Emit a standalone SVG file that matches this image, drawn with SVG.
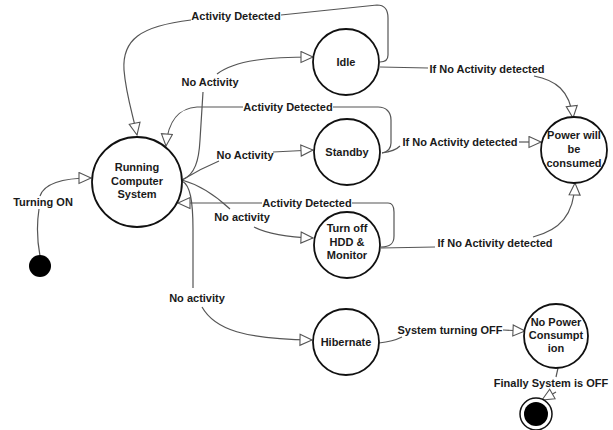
<svg xmlns="http://www.w3.org/2000/svg" width="613" height="430" viewBox="0 0 613 430">
<defs>
<marker id="arr" markerUnits="userSpaceOnUse" markerWidth="16" markerHeight="16" refX="13" refY="6.5" orient="auto">
<path d="M1,1 L13,6.5 L1,12 Z" fill="#fff" stroke="#555" stroke-width="1.1"/>
</marker>
</defs>
<style>
.st{fill:#fff;stroke:#111;stroke-width:1.8}
.t{font-family:"Liberation Sans",Arial,sans-serif;font-size:11px;font-weight:bold;fill:#1a1a1a;text-anchor:middle}
.c{fill:none;stroke:#555;stroke-width:1.2}
.a{marker-end:url(#arr)}
</style>
<rect width="613" height="430" fill="#fff"/>
<g id="connectors">
<!-- Turning ON -->
<path class="c" d="M40,256 C37,240 37,222 39,209"/>
<path class="c a" d="M40,196 C44,184 60,178 91,178"/>
<text class="t" x="43" y="206">Turning ON</text>
<!-- Running -> Idle -->
<path class="c" d="M182,180 C195,175 199,160 200,140 L203,92"/>
<path class="c a" d="M217,74 C235,60 270,57 313,57"/>
<text class="t" x="210" y="86">No Activity</text>
<!-- Running -> Standby -->
<path class="c" d="M182,180 C195,172 207,166 219,161"/>
<path class="c a" d="M273,152 L313,150"/>
<text class="t" x="245" y="159">No Activity</text>
<!-- Running -> Turn off -->
<path class="c" d="M182,180 C200,185 215,195 230,209"/>
<path class="c a" d="M254,227 C268,234 285,237 313,238"/>
<text class="t" x="242" y="221">No activity</text>
<!-- Running -> Hibernate -->
<path class="c" d="M182,181 C190,185 193,200 193,230 L193,288"/>
<path class="c a" d="M202,307 C215,330 245,339 312,340"/>
<text class="t" x="197" y="302">No activity</text>
<!-- Idle -> Running (Activity Detected) -->
<path class="c" d="M281,15 L377,5 C385,5 388,10 388,18 L388,55 C388,60 385,62 380,62"/>
<path class="c a" d="M191,20 C140,26 122,40 124,70 C126,95 133,115 137,135"/>
<text class="t" x="236" y="20">Activity Detected</text>
<!-- Standby -> Running (Activity Detected) -->
<path class="c" d="M333,107 L378,107 C386,107 391,112 391,120 L391,143 C391,149 387,152 382,153"/>
<path class="c a" d="M243,107 L197,107 C180,108 168,120 166,146"/>
<text class="t" x="288" y="111">Activity Detected</text>
<!-- Turn off -> Running (Activity Detected) -->
<path class="c" d="M352,203 L388,203 C392,203 394,207 394,212 L394,236 C394,244 390,247 381,247"/>
<path class="c a" d="M262,203 L178,203"/>
<text class="t" x="307" y="207">Activity Detected</text>
<!-- Idle -> Power -->
<path class="c" d="M380,67 L428,68"/>
<path class="c a" d="M534,76 C555,80 570,90 573,118"/>
<text class="t" x="487" y="73">If No Activity detected</text>
<!-- Standby -> Power -->
<path class="c" d="M382,153 C390,152 396,150 400,146"/>
<path class="c a" d="M519,142 L541,142"/>
<text class="t" x="460" y="146">If No Activity detected</text>
<!-- Turn off -> Power -->
<path class="c" d="M381,248 L435,247"/>
<path class="c a" d="M533,237 C560,230 574,215 575,183"/>
<text class="t" x="495" y="247">If No Activity detected</text>
<!-- Hibernate -> No Power -->
<path class="c" d="M379,343 C388,342 396,340 402,337"/>
<path class="c a" d="M503,330 L525,331"/>
<text class="t" x="450" y="334">System turning OFF</text>
<!-- No Power -> Final -->
<path class="c" d="M558,368 L556,377"/>
<path class="c a" d="M556,392 L542,400"/>
<text class="t" x="551" y="387">Finally System is OFF</text>
</g>
<g id="initial"><circle cx="40" cy="266" r="11" fill="#000"/></g>
<g id="running"><circle class="st" cx="137" cy="182" r="45"/>
<text class="t" x="137" y="171">Running</text><text class="t" x="137" y="185">Computer</text><text class="t" x="137" y="198">System</text></g>
<g id="idle"><circle class="st" cx="346" cy="62" r="33"/><text class="t" x="346" y="66">Idle</text></g>
<g id="standby"><circle class="st" cx="347" cy="152" r="33"/><text class="t" x="347" y="156">Standby</text></g>
<g id="turnoff"><circle class="st" cx="347" cy="245" r="33"/>
<text class="t" x="347" y="232">Turn off</text><text class="t" x="347" y="246">HDD &amp;</text><text class="t" x="347" y="259">Monitor</text></g>
<g id="power"><circle class="st" cx="574" cy="150" r="33"/>
<text class="t" x="574" y="139">Power will</text><text class="t" x="574" y="153">be</text><text class="t" x="574" y="167">consumed</text></g>
<g id="hibernate"><circle class="st" cx="346" cy="342" r="33"/><text class="t" x="346" y="346">Hibernate</text></g>
<g id="nopower"><circle class="st" cx="556" cy="336" r="32"/>
<text class="t" x="556" y="326">No Power</text><text class="t" x="556" y="339">Consumpt</text><text class="t" x="556" y="352">ion</text></g>
<g id="final"><circle cx="536" cy="414" r="16" fill="#fff" stroke="#111" stroke-width="1.5"/><circle cx="536" cy="414" r="12" fill="#000"/></g>
</svg>
